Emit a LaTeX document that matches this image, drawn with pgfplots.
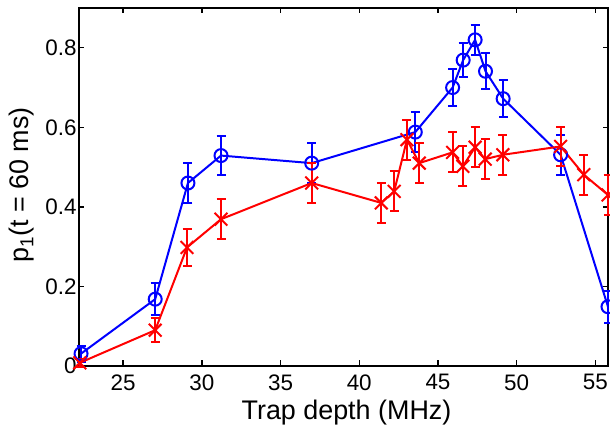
\documentclass[border=0pt]{standalone}
\usepackage{pgfplots}
\pgfplotsset{compat=1.18}
\usepackage{fontspec}
\setmainfont{Liberation Sans}
\begin{document}
\begin{tikzpicture}
\begin{axis}[
  name=ax,
  scale only axis,
  width=529bp, height=358bp,
  xmin=22.2, xmax=55.8,
  ymin=0, ymax=0.9,
  xtick={25,30,35,40,45,50,55},
  ytick={0,0.2,0.4,0.6,0.8},
  yticklabels={0,0.2,0.4,0.6,0.8},
  tick align=inside,
  tick pos=both,
  major tick length=5.5bp,
  axis line style={line width=2bp},
  tick style={line width=1.4bp, black},
  /pgf/number format/assume math mode=true,
  tick label style={font=\fontsize{22.5}{26}\selectfont},
  xticklabel style={yshift=-5bp},
  yticklabel style={xshift=1bp},
  xlabel={Trap depth (MHz)},
  ylabel={p\textsubscript{1}(t = 60 ms)},
  every axis x label/.style={at={(rel axis cs:0.5,0)}, anchor=center, yshift=-47bp, xshift=3bp, font=\fontsize{27}{30}\selectfont},
  every axis y label/.style={at={(rel axis cs:0,0.5)}, xshift=-57bp, yshift=2bp, rotate=90, anchor=center, font=\fontsize{27}{30}\selectfont},
  clip=false,
]
\addplot[blue, line width=2bp, mark=o, mark size=6.5bp, mark options={line width=2bp},
  error bars/.cd, y dir=both, y explicit,
  error bar style={line width=2bp},
  error mark options={line width=2bp, mark size=4.5bp, rotate=90}]
coordinates {
(22.33,0.031) +- (0,0.02)
(27.04,0.168) +- (0,0.04)
(29.12,0.46) +- (0,0.05)
(31.22,0.529) +- (0,0.05)
(36.98,0.51) +- (0,0.05)
(43.56,0.588) +- (0,0.05)
(45.93,0.70) +- (0,0.047)
(46.6,0.769) +- (0,0.043)
(47.36,0.82) +- (0,0.038)
(48.02,0.741) +- (0,0.045)
(49.14,0.672) +- (0,0.047)
(52.79,0.531) +- (0,0.05)
(55.8,0.149) +- (0,0.04)
};
\addplot[red, line width=2bp, mark=x, mark size=9bp, mark options={line width=2bp},
  error bars/.cd, y dir=both, y explicit,
  error bar style={line width=2bp},
  error mark options={line width=2bp, mark size=4.5bp, rotate=90}]
coordinates {
(22.25,0.008) +- (0,0.01)
(27.04,0.09) +- (0,0.03)
(29.06,0.298) +- (0,0.047)
(31.22,0.369) +- (0,0.05)
(36.98,0.46) +- (0,0.05)
(41.4,0.41) +- (0,0.05)
(42.22,0.439) +- (0,0.05)
(43.03,0.569) +- (0,0.05)
(43.81,0.51) +- (0,0.05)
(45.93,0.537) +- (0,0.05)
(46.58,0.502) +- (0,0.05)
(47.36,0.55) +- (0,0.05)
(48.0,0.52) +- (0,0.05)
(49.12,0.531) +- (0,0.05)
(52.79,0.552) +- (0,0.05)
(54.26,0.481) +- (0,0.05)
(55.8,0.43) +- (0,0.05)
};
\end{axis}
\pgfresetboundingbox
\path[use as bounding box] ([shift={(-79bp,-59bp)}]ax.south west) rectangle ([shift={(2bp,8bp)}]ax.north east);
\end{tikzpicture}
\end{document}
